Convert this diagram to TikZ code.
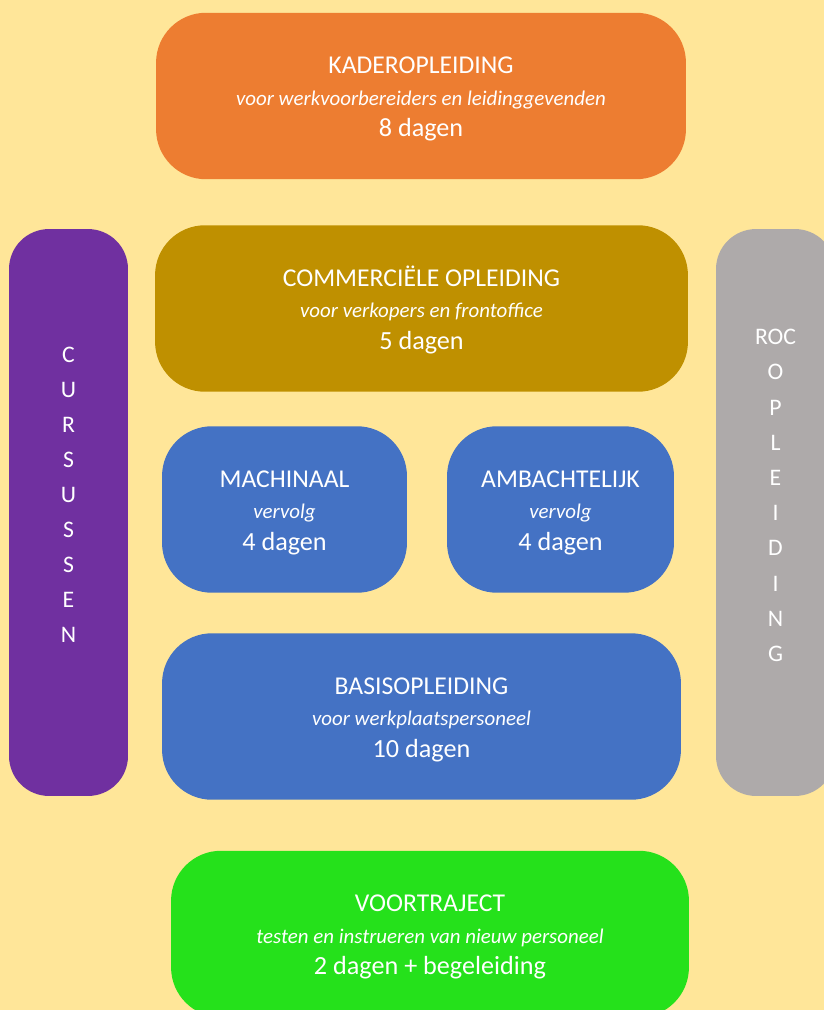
\documentclass[tikz,border=0pt]{standalone}
\usepackage{fontspec}
\setmainfont{Carlito}

\definecolor{achter}{HTML}{FFE699}
\definecolor{oranje}{HTML}{ED7D31}
\definecolor{goud}{HTML}{BF9000}
\definecolor{paars}{HTML}{7030A0}
\definecolor{grijs}{HTML}{AEAAAA}
\definecolor{blauw}{HTML}{4472C4}
\definecolor{groen}{HTML}{25E11B}

\newcommand{\titel}[1]{{\fontsize{14.6}{18}\selectfont\rule{0pt}{13pt}#1}}
\newcommand{\doel}[1]{{\fontsize{11.9}{18}\selectfont\itshape #1}}
\newcommand{\duur}[1]{{\fontsize{14.9}{18}\selectfont #1}}

\begin{document}
\begin{tikzpicture}[x=0.02cm, y=-0.02cm,
  blok/.style={rounded corners=1cm, inner sep=0pt, align=center, text=white,
    minimum height=3.33cm, font=\fontsize{14.6}{18}\selectfont},
  balk/.style={rounded corners=0.8cm, minimum width=2.38cm, minimum height=11.34cm},
  letter/.style={text=white, inner sep=0pt, font=\fontsize{13.5}{15}\selectfont}]
  \useasboundingbox (0,0) rectangle (824,1010);
  \clip (0,0) rectangle (824,1010);
  \fill[achter] (0,0) rectangle (824,1010);

  % Kader
  \node[blok, fill=oranje, minimum width=10.6cm] (kader) at (421,96)
    {\titel{KADEROPLEIDING}\\ \doel{voor werkvoorbereiders en leidinggevenden}\\ \duur{8 dagen}};

  % Commercieel
  \node[blok, fill=goud, minimum width=10.66cm] (commercieel) at (421.5,308.5)
    {\titel{COMMERCIËLE OPLEIDING}\\ \doel{voor verkopers en frontoffice}\\ \duur{5 dagen}};

  % Vervolg
  \node[blok, fill=blauw, minimum width=4.9cm] (machinaal) at (284.5,509.5)
    {\titel{MACHINAAL}\\ \doel{vervolg}\\ \duur{4 dagen}};
  \node[blok, fill=blauw, minimum width=4.54cm] (ambacht) at (560.5,509.5)
    {\titel{AMBACHTELIJK}\\ \doel{vervolg}\\ \duur{4 dagen}};

  % Basis
  \node[blok, fill=blauw, minimum width=10.38cm] (basis) at (421.5,716.5)
    {\titel{BASISOPLEIDING}\\ \doel{voor werkplaatspersoneel}\\ \duur{10 dagen}};

  % Voortraject
  \node[blok, fill=groen, minimum width=10.36cm] (voortraject) at (430,934)
    {\titel{VOORTRAJECT}\\ \doel{testen en instrueren van nieuw personeel}\\ \duur{2 dagen + begeleiding}};

  % Cursussen
  \node[balk, fill=paars] (cursus) at (68.5,512.5) {};
  \foreach \l [count=\i] in {C,U,R,S,U,S,S,E,N}
    \node[letter] (c\i) at (68.5, 320+35*\i) {\l};

  % ROC
  \node[balk, fill=grijs] (roc) at (775.5,512.5) {};
  \foreach \l [count=\i] in {ROC,O,P,L,E,I,D,I,N,G}
    \node[letter] (r\i) at (775.5, 301.8+35.2*\i) {\l};
\end{tikzpicture}
\end{document}
